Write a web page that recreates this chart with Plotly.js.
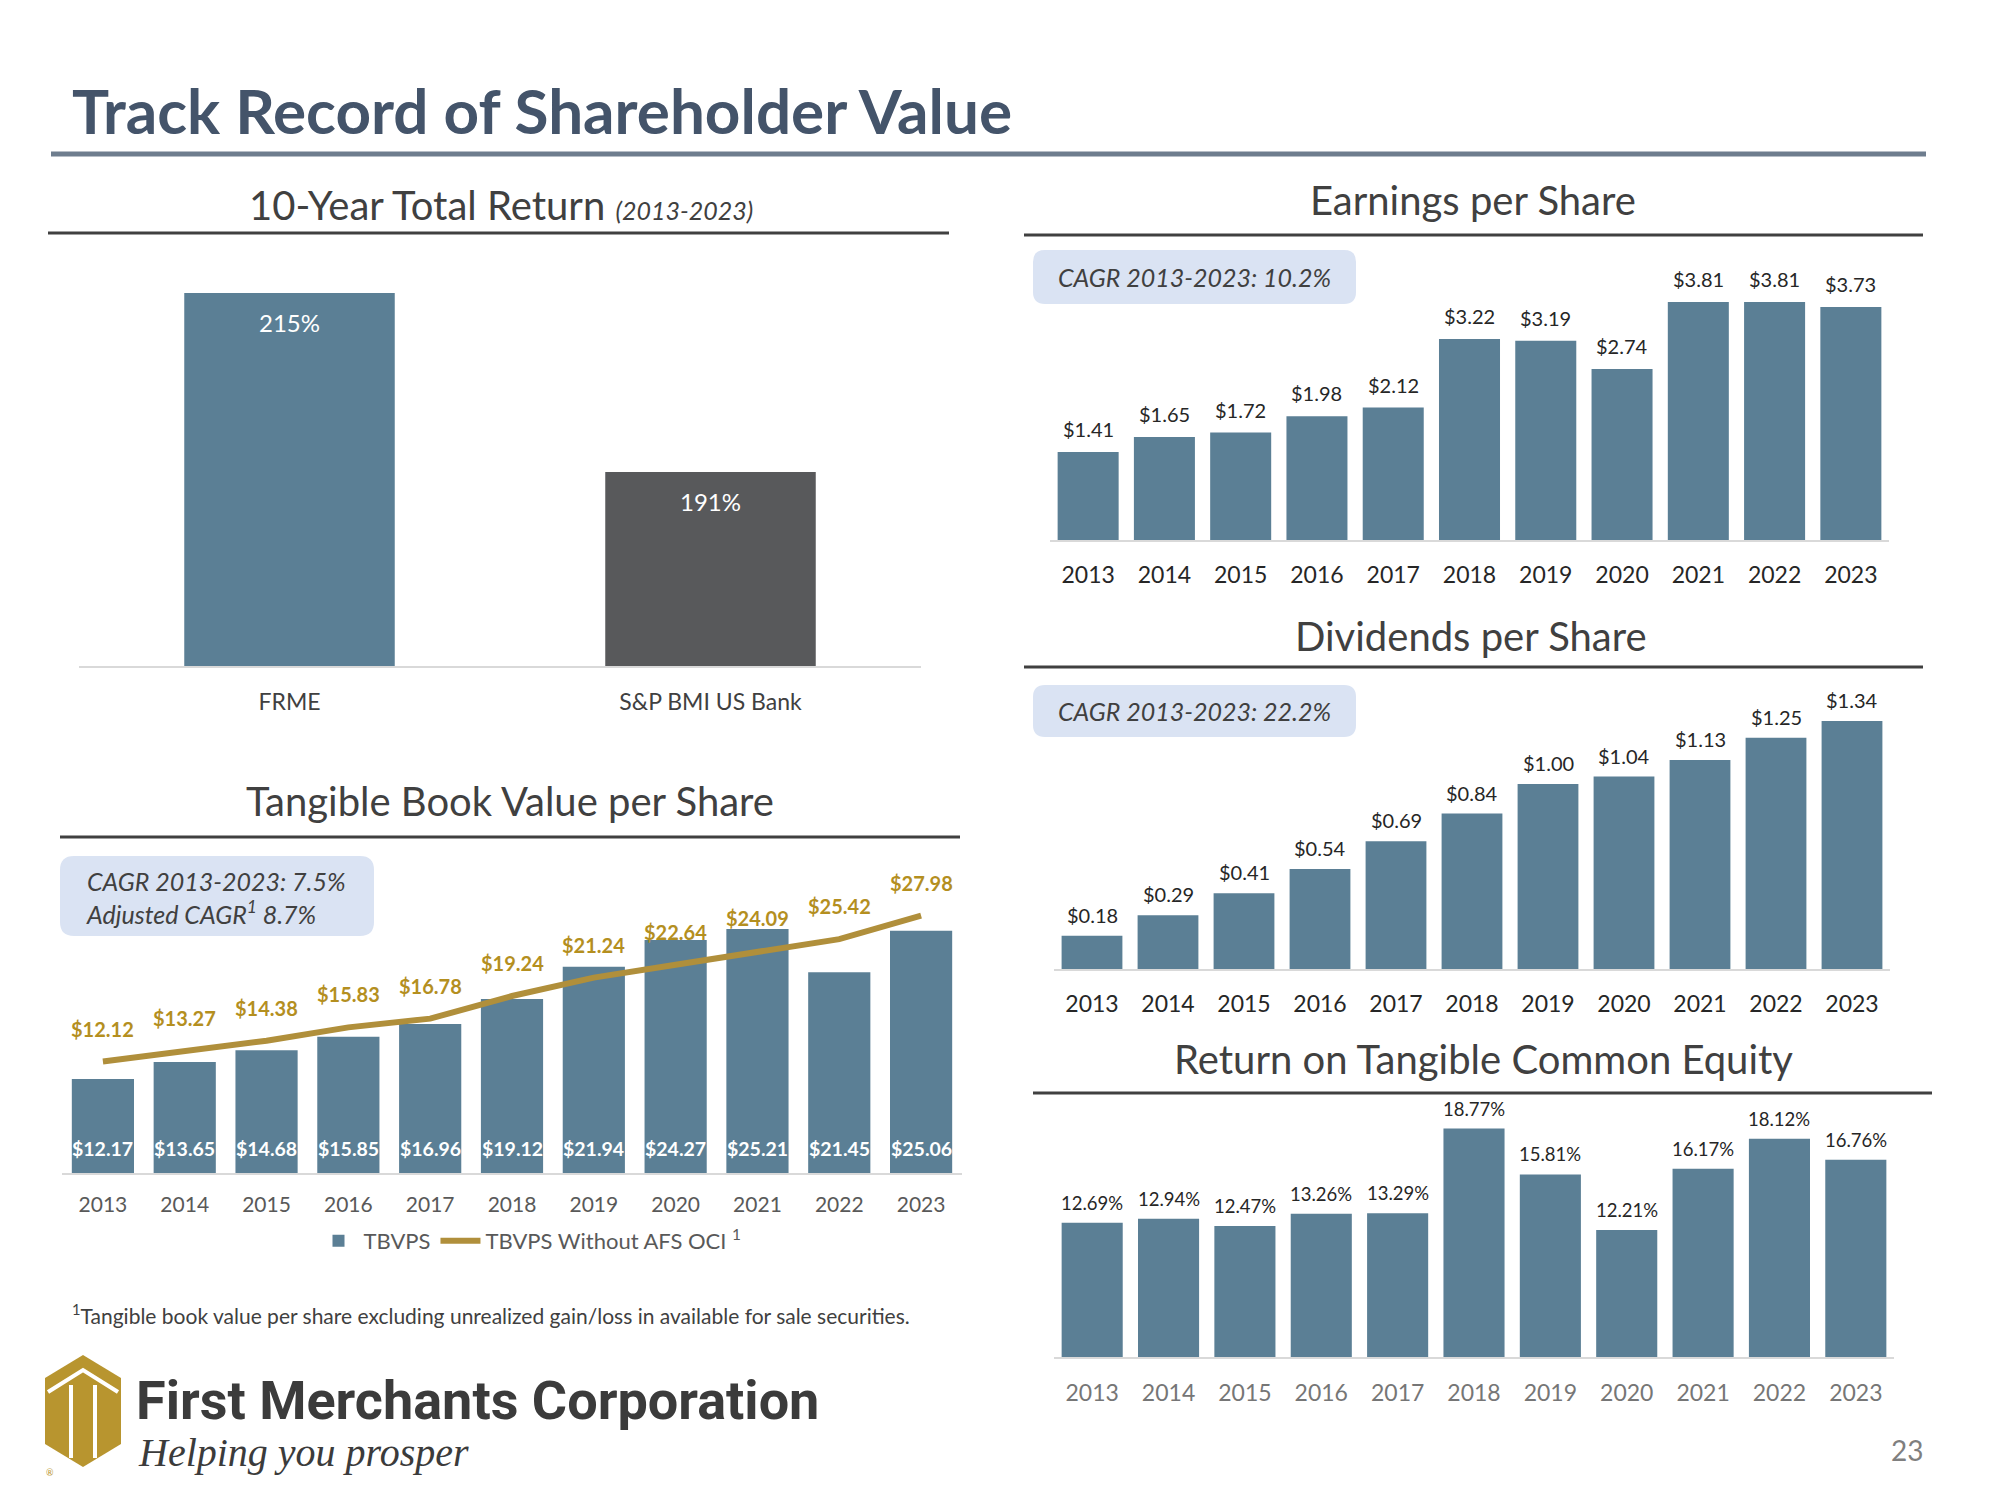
<!DOCTYPE html>
<html>
<head>
<meta charset="utf-8">
<script src="https://cdn.plot.ly/plotly-3.0.1.min.js"></script>
<style>
  html, body { margin: 0; padding: 0; background: #ffffff; }
  #chart { width: 2000px; height: 1500px; }
</style>
</head>
<body>
<div id="chart"></div>
<script>
// ---------------- DATA ----------------
const returnCats = ['FRME', 'S&P BMI US Bank'];
const returnVals = [215, 191];

const years = ['2013','2014','2015','2016','2017','2018','2019','2020','2021','2022','2023'];
const tbvps = [12.17, 13.65, 14.68, 15.85, 16.96, 19.12, 21.94, 24.27, 25.21, 21.45, 25.06];
const tbvpsAdj = [12.12, 13.27, 14.38, 15.83, 16.78, 19.24, 21.24, 22.64, 24.09, 25.42, 27.98];
const eps = [1.41, 1.65, 1.72, 1.98, 2.12, 3.22, 3.19, 2.74, 3.81, 3.81, 3.73];
const dps = [0.18, 0.29, 0.41, 0.54, 0.69, 0.84, 1.00, 1.04, 1.13, 1.25, 1.34];
const rotce = [12.69, 12.94, 12.47, 13.26, 13.29, 18.77, 15.81, 12.21, 16.17, 18.12, 16.76];

// ---------------- STYLE ----------------
const W = 2000, H = 1500;
const FONT = 'Lato, "Open Sans", sans-serif';
const BLUE = '#5B7F95';
const DARKGRAY = '#58595B';
const GOLD_LINE = '#B08F3B';
const GOLD_TEXT = '#B48F1F';
const TXT = '#404040';
const BOX = '#DAE3F3';

const X = v => v / W;
const Y = v => 1 - v / H;

const money = v => '$' + v.toFixed(2);
const pct = v => v.toFixed(2) + '%';

// ---------------- TRACES ----------------
const traces = [];
traces.push({
  type: 'bar', x: returnCats, y: returnVals, xaxis: 'x', yaxis: 'y',
  marker: { color: [BLUE, DARKGRAY] }, width: 0.5, showlegend: false, hoverinfo: 'skip'
});
traces.push({
  type: 'bar', x: years, y: tbvps, xaxis: 'x2', yaxis: 'y2', name: 'TBVPS',
  marker: { color: BLUE }, width: 0.76, showlegend: true, hoverinfo: 'skip'
});
traces.push({
  type: 'scatter', mode: 'lines', x: years, y: tbvpsAdj, xaxis: 'x2', yaxis: 'y3',
  name: 'TBVPS Without AFS OCI <sup>1</sup>',
  line: { color: GOLD_LINE, width: 6 }, showlegend: true, hoverinfo: 'skip'
});
traces.push({
  type: 'bar', x: years, y: eps, xaxis: 'x4', yaxis: 'y4',
  marker: { color: BLUE }, width: 0.8, showlegend: false, hoverinfo: 'skip'
});
traces.push({
  type: 'bar', x: years, y: dps, xaxis: 'x5', yaxis: 'y5',
  marker: { color: BLUE }, width: 0.8, showlegend: false, hoverinfo: 'skip'
});
traces.push({
  type: 'bar', x: years, y: rotce, xaxis: 'x6', yaxis: 'y6',
  marker: { color: BLUE }, width: 0.8, showlegend: false, hoverinfo: 'skip'
});

// ---------------- AXES ----------------
function xax(d0, d1, anchor, n, size, color, standoff) {
  return {
    domain: [X(d0), X(d1)], anchor: anchor, type: 'category',
    range: [-0.5, n - 0.5], autorange: false,
    showline: true, linecolor: '#D9D9D9', linewidth: 2,
    showgrid: false, zeroline: false, ticks: '', fixedrange: true,
    tickfont: { family: FONT, size: size, color: color },
    ticklabelstandoff: standoff
  };
}
function yax(b, t, range, anchor) {
  return {
    domain: [Y(b), Y(t)], range: range, autorange: false, anchor: anchor,
    visible: false, showgrid: false, zeroline: false, fixedrange: true
  };
}

const RET_RANGE = [165, 220];
const TB_RANGE = [4, 32];
const TBADJ_RANGE = [0, 35];
const EPS_RANGE = [0, 4.5];
const DPS_RANGE = [0, 1.5];
const ROT_RANGE = [4, 20];

// ---------------- SHAPES ----------------
function rrect(x0, y0, x1, y1, r) {
  const f = v => X(v).toFixed(5), g = v => Y(v).toFixed(5);
  return `M${f(x0 + r)},${g(y0)} L${f(x1 - r)},${g(y0)} Q${f(x1)},${g(y0)} ${f(x1)},${g(y0 + r)} ` +
    `L${f(x1)},${g(y1 - r)} Q${f(x1)},${g(y1)} ${f(x1 - r)},${g(y1)} L${f(x0 + r)},${g(y1)} ` +
    `Q${f(x0)},${g(y1)} ${f(x0)},${g(y1 - r)} L${f(x0)},${g(y0 + r)} Q${f(x0)},${g(y0)} ${f(x0 + r)},${g(y0)} Z`;
}
function poly(pts, close) {
  return pts.map((p, i) => (i ? 'L' : 'M') + X(p[0]).toFixed(5) + ',' + Y(p[1]).toFixed(5)).join(' ') + (close ? ' Z' : '');
}
function hline(x0, x1, y, w, c) {
  return { type: 'line', xref: 'paper', yref: 'paper', x0: X(x0), x1: X(x1), y0: Y(y), y1: Y(y), line: { color: c, width: w } };
}
const shapes = [
  hline(51, 1926, 154, 5, '#6E7D8E'),
  hline(48, 949, 233, 3, TXT),
  hline(60, 960, 837, 3, TXT),
  hline(1024, 1923, 235, 3, TXT),
  hline(1024, 1923, 667, 3, TXT),
  hline(1033, 1932, 1093, 3, TXT),
  { type: 'path', xref: 'paper', yref: 'paper', path: rrect(60, 856, 374, 936, 14), fillcolor: BOX, line: { width: 0 }, layer: 'below' },
  { type: 'path', xref: 'paper', yref: 'paper', path: rrect(1033, 250, 1356, 304, 12), fillcolor: BOX, line: { width: 0 }, layer: 'below' },
  { type: 'path', xref: 'paper', yref: 'paper', path: rrect(1033, 685, 1356, 737, 12), fillcolor: BOX, line: { width: 0 }, layer: 'below' },
  // logo icon
  { type: 'path', xref: 'paper', yref: 'paper', path: poly([[83,1355],[121,1378],[121,1444],[83,1467],[45,1444],[45,1378]], true), fillcolor: '#B8952F', line: { width: 0 } },
  { type: 'path', xref: 'paper', yref: 'paper', path: poly([[48,1392],[83,1370],[118,1392]], false), line: { color: '#ffffff', width: 4 } },
  { type: 'line', xref: 'paper', yref: 'paper', x0: X(71), x1: X(71), y0: Y(1385), y1: Y(1458), line: { color: '#ffffff', width: 4 } },
  { type: 'line', xref: 'paper', yref: 'paper', x0: X(95), x1: X(95), y0: Y(1385), y1: Y(1458), line: { color: '#ffffff', width: 4 } }
];

// ---------------- ANNOTATIONS ----------------
function txt(text, x, y, size, color, anchor, opts) {
  return Object.assign({
    xref: 'paper', yref: 'paper', x: X(x), y: Y(y), text: text, showarrow: false,
    xanchor: anchor || 'center', yanchor: 'middle', align: 'left',
    font: { family: FONT, size: size, color: color }
  }, opts || {});
}
const annotations = [
  txt('<b>Track Record of Shareholder Value</b>', 70, 110, 62, '#44546A', 'left'),
  txt('10-Year Total Return <i><span style="font-size:25px">(2013-2023)</span></i>', 501, 205, 40, TXT),
  txt('Tangible Book Value per Share', 510, 801, 40, TXT),
  txt('Earnings per Share', 1473, 200, 40, TXT),
  txt('Dividends per Share', 1471, 636, 40, TXT),
  txt('Return on Tangible Common Equity', 1483, 1059, 40, TXT),
  txt('<i>CAGR 2013-2023: 7.5%<br>Adjusted CAGR<sup>1</sup> 8.7%</i>', 84, 897, 25, TXT, 'left'),
  txt('<i>CAGR 2013-2023: 10.2%</i>', 1056, 277, 25, TXT, 'left'),
  txt('<i>CAGR 2013-2023: 22.2%</i>', 1056, 711, 25, TXT, 'left'),
  txt('<sup>1</sup>Tangible book value per share excluding unrealized gain/loss in available for sale securities.', 70, 1314, 21, TXT, 'left'),
  txt('<b>First Merchants Corporation</b>', 134, 1400, 54, '#3B3B3B', 'left', { font: { family: 'Roboto, sans-serif', size: 54, color: '#3B3B3B' } }),
  txt('<i>Helping you prosper</i>', 136, 1452, 40, '#3B3B3B', 'left', { font: { family: '"Liberation Serif", serif', size: 40, color: '#3B3B3B' } }),
  txt('®', 44, 1472, 9, '#B8952F', 'left'),
  txt('23', 1925, 1450, 28, '#7F7F7F', 'right')
];

// data labels (category axes addressed by serial index)
returnCats.forEach((c, i) => annotations.push({
  xref: 'x', yref: 'y', x: i, y: returnVals[i], text: returnVals[i] + '%', showarrow: false,
  yanchor: 'top', yshift: -13, font: { family: FONT, size: 24, color: '#ffffff' }
}));
years.forEach((yr, i) => {
  annotations.push({
    xref: 'x2', yref: 'y2', x: i, y: TB_RANGE[0], text: '<b>' + money(tbvps[i]) + '</b>', showarrow: false,
    yanchor: 'bottom', yshift: 11, font: { family: FONT, size: 19.5, color: '#ffffff' }
  });
  annotations.push({
    xref: 'x2', yref: 'y3', x: i, y: tbvpsAdj[i], text: '<b>' + money(tbvpsAdj[i]) + '</b>', showarrow: false,
    yanchor: 'middle', yshift: 33, font: { family: FONT, size: 20, color: GOLD_TEXT }
  });
  annotations.push({
    xref: 'x4', yref: 'y4', x: i, y: eps[i], text: money(eps[i]), showarrow: false,
    yanchor: 'bottom', yshift: 9, font: { family: FONT, size: 20, color: '#262626' }
  });
  annotations.push({
    xref: 'x5', yref: 'y5', x: i, y: dps[i], text: money(dps[i]), showarrow: false,
    yanchor: 'bottom', yshift: 7, font: { family: FONT, size: 20, color: '#262626' }
  });
  annotations.push({
    xref: 'x6', yref: 'y6', x: i, y: rotce[i], text: pct(rotce[i]), showarrow: false,
    yanchor: 'bottom', yshift: 7, font: { family: FONT, size: 18.5, color: '#262626' }
  });
});

// ---------------- LAYOUT ----------------
const layout = {
  width: W, height: H,
  margin: { l: 0, r: 0, t: 0, b: 0 },
  paper_bgcolor: '#ffffff', plot_bgcolor: 'rgba(0,0,0,0)',
  font: { family: FONT, color: TXT },
  xaxis: xax(79, 921, 'y', returnCats.length, 23, TXT, 14),
  yaxis: yax(666, 666 - (RET_RANGE[1] - RET_RANGE[0]) * 7.46, RET_RANGE, 'x'),
  xaxis2: xax(62, 962, 'y2', years.length, 21, '#595959', 12),
  yaxis2: yax(1173, 851, TB_RANGE, 'x2'),
  yaxis3: { overlaying: 'y2', range: TBADJ_RANGE, autorange: false, visible: false, showgrid: false, zeroline: false, fixedrange: true },
  xaxis4: xax(1050, 1889, 'y4', years.length, 23, '#262626', 13),
  yaxis4: yax(540, 259, EPS_RANGE, 'x4'),
  xaxis5: xax(1054, 1890, 'y5', years.length, 23, '#262626', 13),
  yaxis5: yax(969, 691.5, DPS_RANGE, 'x5'),
  xaxis6: xax(1054, 1894, 'y6', years.length, 23, '#767676', 14),
  yaxis6: yax(1357, 1109.6, ROT_RANGE, 'x6'),
  showlegend: true,
  legend: {
    orientation: 'h', x: X(530), xanchor: 'center', y: Y(1241), yanchor: 'middle',
    font: { family: FONT, size: 22, color: '#595959' }, bgcolor: 'rgba(0,0,0,0)',
    itemwidth: 40, tracegroupgap: 0
  },
  shapes: shapes,
  annotations: annotations
};

Plotly.newPlot('chart', traces, layout, { staticPlot: true, displayModeBar: false });
</script>
</body>
</html>
